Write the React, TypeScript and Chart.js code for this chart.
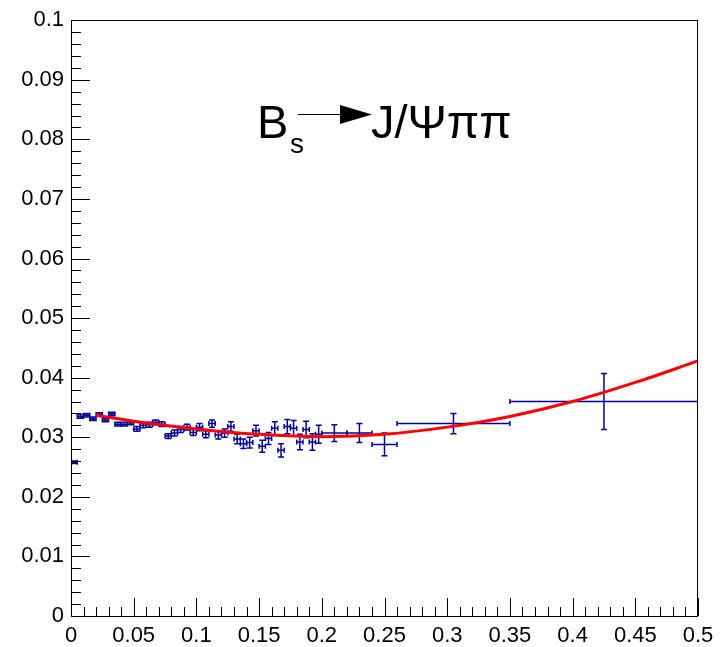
import React, { useEffect, useRef } from 'react';
import { Chart, registerables } from 'chart.js';

Chart.register(...registerables);

// ---- data ----
const xValues = [
  0.0025, 0.0075, 0.0125, 0.0175, 0.0225, 0.0275, 0.0325, 0.0375, 0.0425, 0.0475,
  0.0525, 0.0575, 0.0625, 0.0675, 0.0725, 0.0775, 0.0825, 0.0875, 0.0925, 0.0975,
  0.1025, 0.1075, 0.1125, 0.1175, 0.1225, 0.1275, 0.1325, 0.1375, 0.1425, 0.1475,
  0.1525, 0.1575, 0.1625, 0.1675, 0.1725, 0.1775, 0.1825, 0.1875, 0.1925, 0.1975,
  0.21, 0.23, 0.25, 0.305, 0.425,
];
const yValues = [
  0.0258, 0.0335, 0.0337, 0.0331, 0.0338, 0.0329, 0.0339, 0.0322, 0.0322, 0.0324,
  0.0314, 0.0320, 0.0321, 0.0325, 0.0322, 0.0302, 0.0307, 0.0313, 0.0317, 0.0308,
  0.0317, 0.0305, 0.0323, 0.0304, 0.0307, 0.0318, 0.0297, 0.0289, 0.0291, 0.0311,
  0.0285, 0.0298, 0.0315, 0.0278, 0.0318, 0.0315, 0.0292, 0.0313, 0.0292, 0.0305,
  0.0307, 0.0307, 0.0288, 0.0323, 0.0360,
];
const xErrors = [
  0.0025, 0.0025, 0.0025, 0.0025, 0.0025, 0.0025, 0.0025, 0.0025, 0.0025, 0.0025,
  0.0025, 0.0025, 0.0025, 0.0025, 0.0025, 0.0025, 0.0025, 0.0025, 0.0025, 0.0025,
  0.0025, 0.0025, 0.0025, 0.0025, 0.0025, 0.0025, 0.0025, 0.0025, 0.0025, 0.0025,
  0.0025, 0.0025, 0.0025, 0.0025, 0.0025, 0.0025, 0.0025, 0.0025, 0.0025, 0.0025,
  0.01, 0.01, 0.01, 0.045, 0.075,
];
const yErrors = [
  0.0002, 0.0003, 0.0003, 0.0003, 0.0003, 0.0003, 0.0003, 0.0003, 0.0003, 0.0003,
  0.0004, 0.0004, 0.0004, 0.0004, 0.0004, 0.0004, 0.0005, 0.0005, 0.0005, 0.0005,
  0.0006, 0.0006, 0.0006, 0.0007, 0.0007, 0.0008, 0.0008, 0.0008, 0.0009, 0.0009,
  0.0010, 0.0010, 0.0011, 0.0011, 0.0012, 0.0013, 0.0013, 0.0014, 0.0014, 0.0015,
  0.0014, 0.0016, 0.0019, 0.0017, 0.0047,
];

// fitted curve
const fitX = [0.02, 0.05, 0.10, 0.15, 0.20, 0.25, 0.30, 0.35, 0.40, 0.45, 0.50];
const fitY = [0.0337, 0.0327, 0.0314, 0.0305, 0.0301, 0.0305, 0.0317, 0.0335, 0.0360, 0.0392, 0.0428];

const xTickValues = [0, 0.05, 0.1, 0.15, 0.2, 0.25, 0.3, 0.35, 0.4, 0.45, 0.5];
const xTickLabels = ['0', '0.05', '0.1', '0.15', '0.2', '0.25', '0.3', '0.35', '0.4', '0.45', '0.5'];
const yTickValues = [0, 0.01, 0.02, 0.03, 0.04, 0.05, 0.06, 0.07, 0.08, 0.09, 0.1];
const yTickLabels = ['0', '0.01', '0.02', '0.03', '0.04', '0.05', '0.06', '0.07', '0.08', '0.09', '0.1'];

const titleParticle = 'B';
const titleSub = 's';
const titleProducts = 'J/Ψππ';

const MARKER_COLOR = '#000099';
const FIT_COLOR = '#ff0000';
const FONT = "'Liberation Sans', Arial, Helvetica, sans-serif";

const errorBarPlugin = {
  id: 'errorBars',
  beforeDatasetsDraw(chart: any) {
    const { ctx, scales, chartArea } = chart;
    const x = scales.x;
    const y = scales.y;
    ctx.save();
    ctx.beginPath();
    ctx.rect(chartArea.left, chartArea.top, chartArea.right - chartArea.left, chartArea.bottom - chartArea.top);
    ctx.clip();
    ctx.strokeStyle = MARKER_COLOR;
    ctx.lineWidth = 1.5;
    const capX = 2.5;
    const capY = 3;
    for (let i = 0; i < xValues.length; i++) {
      const cx = x.getPixelForValue(xValues[i]);
      const cy = y.getPixelForValue(yValues[i]);
      const xl = x.getPixelForValue(xValues[i] - xErrors[i]);
      const xr = x.getPixelForValue(xValues[i] + xErrors[i]);
      const yt = y.getPixelForValue(yValues[i] + yErrors[i]);
      const yb = y.getPixelForValue(yValues[i] - yErrors[i]);
      ctx.beginPath();
      ctx.moveTo(xl, cy);
      ctx.lineTo(xr, cy);
      ctx.moveTo(cx, yt);
      ctx.lineTo(cx, yb);
      ctx.moveTo(xl, cy - capX);
      ctx.lineTo(xl, cy + capX);
      ctx.moveTo(xr, cy - capX);
      ctx.lineTo(xr, cy + capX);
      ctx.moveTo(cx - capY, yt);
      ctx.lineTo(cx + capY, yt);
      ctx.moveTo(cx - capY, yb);
      ctx.lineTo(cx + capY, yb);
      ctx.stroke();
    }
    ctx.restore();
  },
};

const frameAndTitlePlugin = {
  id: 'frameAndTitle',
  afterDraw(chart: any) {
    const { ctx, scales, chartArea } = chart;
    const x = scales.x;
    const y = scales.y;
    const L = Math.round(chartArea.left);
    const R = Math.round(chartArea.right);
    const T = Math.round(chartArea.top);
    const B = Math.round(chartArea.bottom);
    ctx.save();
    ctx.strokeStyle = '#000';
    ctx.lineWidth = 1;
    ctx.strokeRect(L + 0.5, T + 0.5, R - L - 1, B - T);

    // y ticks (inward)
    ctx.beginPath();
    for (let k = 0; k <= 50; k++) {
      const py = Math.round(y.getPixelForValue(k * 0.002)) + 0.5;
      const len = k % 5 === 0 ? 19 : 10;
      ctx.moveTo(L, py);
      ctx.lineTo(L + len, py);
    }
    // x ticks (inward)
    for (let k = 0; k <= 50; k++) {
      const px = Math.round(x.getPixelForValue(k * 0.01)) + 0.5;
      const len = k % 5 === 0 ? 18 : 9;
      ctx.moveTo(px, B);
      ctx.lineTo(px, B - len);
    }
    ctx.stroke();

    // title text
    ctx.fillStyle = '#000';
    ctx.textBaseline = 'alphabetic';
    ctx.textAlign = 'left';
    ctx.font = `47px ${FONT}`;
    ctx.fillText(titleParticle, 257, 138);
    ctx.font = `28px ${FONT}`;
    ctx.fillText(titleSub, 290, 153);
    // arrow
    ctx.beginPath();
    ctx.moveTo(298, 114.5);
    ctx.lineTo(342, 114.5);
    ctx.stroke();
    ctx.beginPath();
    ctx.moveTo(340, 105);
    ctx.lineTo(372, 114.5);
    ctx.lineTo(340, 124);
    ctx.closePath();
    ctx.fill();
    ctx.font = `47px ${FONT}`;
    ctx.fillText(titleProducts, 371, 138);
    ctx.restore();
  },
};

export default function App() {
  const canvasRef = useRef<HTMLCanvasElement | null>(null);

  useEffect(() => {
    document.body.style.margin = '0';
    const canvas = canvasRef.current;
    if (!canvas) return;
    const points = xValues.map((v, i) => ({ x: v, y: yValues[i] }));
    const fitPoints = fitX.map((v, i) => ({ x: v, y: fitY[i] }));

    const chart = new Chart(canvas, {
      type: 'scatter',
      data: {
        datasets: [
          {
            label: 'data',
            data: points,
            pointRadius: 0,
            showLine: false,
            borderColor: MARKER_COLOR,
            backgroundColor: MARKER_COLOR,
          },
          {
            label: 'fit',
            type: 'line',
            data: fitPoints,
            borderColor: FIT_COLOR,
            borderWidth: 3,
            pointRadius: 0,
            fill: false,
            cubicInterpolationMode: 'monotone',
          } as any,
        ],
      },
      options: {
        animation: false,
        responsive: false,
        devicePixelRatio: 1,
        layout: { padding: { top: 16, right: 28, left: 0, bottom: 0 } },
        plugins: {
          legend: { display: false },
          tooltip: { enabled: false },
          title: { display: false },
        },
        scales: {
          x: {
            type: 'linear',
            min: 0,
            max: 0.5,
            grid: { display: false, drawTicks: false },
            border: { display: false },
            afterBuildTicks: (scale: any) => {
              scale.ticks = xTickValues.map((value) => ({ value }));
            },
            afterFit: (scale: any) => {
              scale.height = 31;
            },
            ticks: {
              autoSkip: false,
              maxRotation: 0,
              padding: 7,
              color: '#000',
              font: { family: FONT, size: 22 },
              callback: (_v: any, index: number) => xTickLabels[index],
            },
          },
          y: {
            type: 'linear',
            min: 0,
            max: 0.1,
            grid: { display: false, drawTicks: false },
            border: { display: false },
            afterBuildTicks: (scale: any) => {
              scale.ticks = yTickValues.map((value) => ({ value }));
            },
            afterFit: (scale: any) => {
              scale.width = 71;
            },
            ticks: {
              autoSkip: false,
              padding: 7,
              color: '#000',
              font: { family: FONT, size: 22 },
              callback: (_v: any, index: number) => yTickLabels[index],
            },
          },
        },
      },
      plugins: [errorBarPlugin, frameAndTitlePlugin],
    });
    return () => chart.destroy();
  }, []);

  return (
    <div style={{ position: 'absolute', left: 0, top: 0, width: 726, height: 647, background: '#fff' }}>
      <canvas ref={canvasRef} width={726} height={647} />
    </div>
  );
}
